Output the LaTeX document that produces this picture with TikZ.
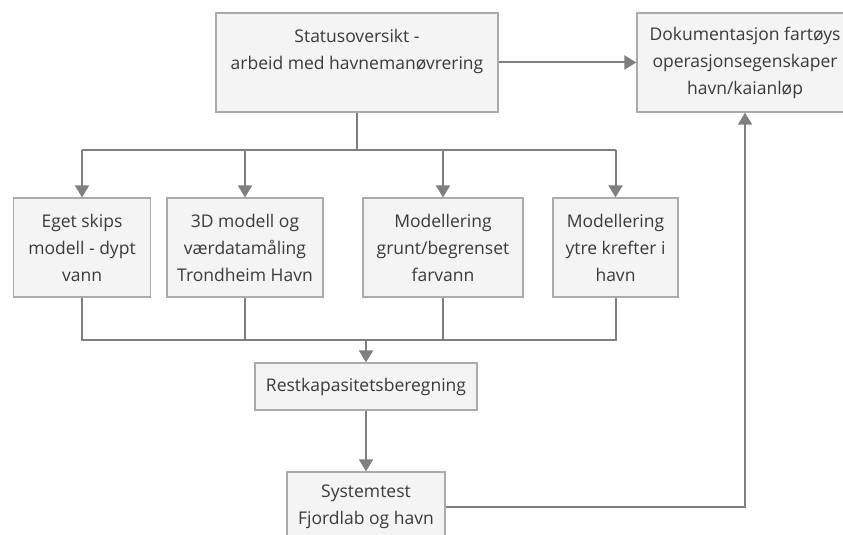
\documentclass[tikz,border=0pt]{standalone}
\usepackage{fontspec}
\setmainfont{Open Sans}
\usetikzlibrary{arrows.meta}

\definecolor{boxfill}{HTML}{F4F4F4}
\definecolor{boxline}{HTML}{ABABAB}
\definecolor{wirecol}{HTML}{7F7F7F}
\definecolor{ink}{HTML}{3A3A3A}

\tikzset{
  box/.style={draw=boxline, fill=boxfill, line width=1.3pt, text=ink,
    align=center, minimum height=99pt, inner sep=0pt,
    font=\fontsize{17.5}{27}\selectfont},
  wire/.style={draw=wirecol, line width=2pt},
}

\begin{document}
\begin{tikzpicture}[x=1pt,y=-1pt,>={Triangle[width=14pt,length=12pt]}]
      \clip (0,0) rectangle (843,535);
      \fill[white] (0,0) rectangle (843,535);
      \node[box, minimum width=282pt] (status) at (357,62.5)
      {Statusoversikt -\\arbeid med havnemanøvrering\\~};
      \node[box, minimum width=216pt] (doku) at (745,62.5)
      {Dokumentasjon fartøys\\operasjonsegenskaper\\havn/kaianløp};
      \node[box, minimum width=137pt] (skip) at (82,247.5)
      {Eget skips\\modell - dypt\\vann};
      \node[box, minimum width=156pt] (modell) at (245,247.5)
      {3D modell og\\værdatamåling\\Trondheim Havn};
      \node[box, minimum width=160pt] (grunt) at (443,247.5)
      {Modellering\\grunt/begrenset\\farvann};
      \node[box, minimum width=125pt] (ytre) at (615.5,247.5)
      {Modellering\\ytre krefter i\\havn};
      \node[box, minimum width=222pt, minimum height=47pt] (rest) at (366,386.5)
      {Restkapasitetsberegning};
      \node[box, minimum width=158pt, minimum height=70pt] (systest) at (366,507)
      {Systemtest\\Fjordlab og havn};
      \coordinate (split) at (357,150);
      \coordinate (join) at (366,340);
      \coordinate (turn) at (745,507);
      \draw[wire,->] (status) -- (doku);
      \draw[wire] (status) -- (split);
      \draw[wire] (split -| skip) -- (split -| ytre);
      \foreach \n in {skip,modell,grunt,ytre}
        \draw[wire,->] (split -| \n) -- (\n);
      \draw[wire] (skip) -- (join -| skip) -- (join -| ytre) -- (ytre);
      \draw[wire] (modell) -- (join -| modell);
      \draw[wire] (grunt) -- (join -| grunt);
      \draw[wire,->] (join) -- (rest);
      \draw[wire,->] (rest) -- (systest);
      \draw[wire,->] (systest) -- (turn) -- (doku);
\end{tikzpicture}
\end{document}
